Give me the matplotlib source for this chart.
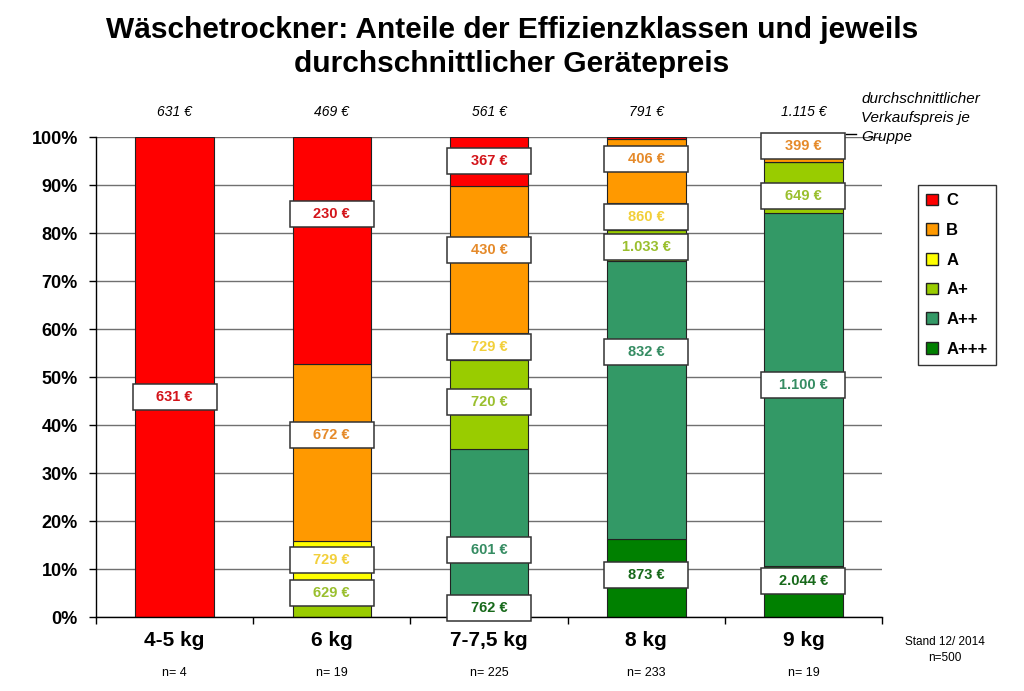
import matplotlib
matplotlib.use('Agg')
import matplotlib.pyplot as plt
from matplotlib.patches import Rectangle, Patch
import matplotlib.transforms as mtrans

plt.rcParams['font.family'] = ['Liberation Sans', 'DejaVu Sans']

categories = ['4-5 kg', '6 kg', '7-7,5 kg', '8 kg', '9 kg']
n_counts = ['n= 4', 'n= 19', 'n= 225', 'n= 233', 'n= 19']
avg_price = ['631 €', '469 €', '561 €', '791 €', '1.115 €']
classes = ['A+++', 'A++', 'A+', 'A', 'B', 'C']

# shares in percent per efficiency class (bottom to top)
share_appp = [0, 0, 4.4, 16.2, 10.53]
share_app = [0, 0, 30.6, 57.97, 73.68]
share_ap = [0, 5.26, 18.5, 6.5, 10.53]
share_a = [0, 10.53, 5.7, 5.6, 0]
share_b = [0, 36.84, 30.6, 13.3, 5.26]
share_c = [100, 47.37, 10.2, 0.43, 0]

# average price per class and group
price_appp = [None, None, '762 €', '873 €', '2.044 €']
price_app = [None, None, '601 €', '832 €', '1.100 €']
price_ap = [None, '629 €', '720 €', '1.033 €', '649 €']
price_a = [None, '729 €', '729 €', '860 €', None]
price_b = [None, '672 €', '430 €', '406 €', '399 €']
price_c = ['631 €', '230 €', '367 €', None, None]

# layout: vertical position of the price boxes (axis percent)
pos_appp = [None, None, 1.9, 8.75, 7.5]
pos_app = [None, None, 14.0, 55.2, 48.3]
pos_ap = [None, 5.0, 44.8, 77.1, 87.7]
pos_a = [None, 11.9, 56.3, 83.4, None]
pos_b = [None, 37.9, 76.5, 95.4, 98.1]
pos_c = [45.8, 84.0, 95.0, None, None]

shares = [share_appp, share_app, share_ap, share_a, share_b, share_c]
prices = [price_appp, price_app, price_ap, price_a, price_b, price_c]
positions = [pos_appp, pos_app, pos_ap, pos_a, pos_b, pos_c]
bar_colors = ['#008000', '#339966', '#99CC00', '#FFFF00', '#FF9900', '#FF0000']
text_colors = ['#17691A', '#358C62', '#9ABF2E', '#F2CF3A', '#E58A2A', '#D3141A']

fig = plt.figure(figsize=(10.24, 6.91), dpi=100)
ax = fig.add_axes([96/1024, 1-617/691, 786/1024, 480/691])

x = list(range(len(categories)))
bottom = [0]*len(categories)
handles = []
for s, col, lab in zip(shares, bar_colors, classes):
    ax.bar(x, s, bottom=bottom, width=0.5, color=col, edgecolor='#222222', linewidth=0.8, zorder=2)
    handles.append(Patch(facecolor=col, edgecolor='#222222', label=lab))
    bottom = [b+v for b, v in zip(bottom, s)]

bw, bh = 0.535, 5.4
for pr, ps, tc in zip(prices, positions, text_colors):
    for i, (p, y) in enumerate(zip(pr, ps)):
        if p is None: continue
        ax.add_patch(Rectangle((i-bw/2, y-bh/2), bw, bh, facecolor='white', edgecolor='#333333', linewidth=1.1, zorder=4, clip_on=False))
        ax.text(i, y, p, ha='center', va='center', color=tc, fontsize=10.5, fontweight='bold', zorder=5)

ax.set_xlim(-0.5, 4.5); ax.set_ylim(0, 100)
ax.set_yticks(range(0, 101, 10))
ax.set_yticklabels([f'{v}%' for v in range(0, 101, 10)], fontsize=13, fontweight='bold')
ax.set_xticks([i-0.5 for i in range(6)]); ax.set_xticklabels([])
ax.tick_params(axis='both', direction='out', length=5, width=1, color='black')
ax.tick_params(axis='y', pad=8)
ax.grid(axis='y', color='#707070', linewidth=1, zorder=0)
ax.set_axisbelow(True)
for sp in ['top', 'right']: ax.spines[sp].set_visible(False)
for sp in ['left', 'bottom']: ax.spines[sp].set_color('black'); ax.spines[sp].set_linewidth(1)

tr = mtrans.blended_transform_factory(ax.transData, ax.transAxes)
for i in x:
    ax.text(i, -0.048, categories[i], transform=tr, ha='center', va='center', fontsize=15, fontweight='bold')
    ax.text(i, -0.117, n_counts[i], transform=tr, ha='center', va='center', fontsize=9)
    ax.text(i, 1.052, avg_price[i], transform=tr, ha='center', va='center', fontsize=10, style='italic')

fig.text(0.5, 1-30/691, 'Wäschetrockner: Anteile der Effizienzklassen und jeweils', ha='center', va='center', fontsize=21.5, fontweight='bold')
fig.text(0.5, 1-64/691, 'durchschnittlicher Gerätepreis', ha='center', va='center', fontsize=21.5, fontweight='bold')
fig.text(861/1024, 1-92/691, 'durchschnittlicher\nVerkaufspreis je\nGruppe', ha='left', va='top', fontsize=11, style='italic', linespacing=1.45)
fig.add_artist(plt.Line2D([846/1024, 856/1024], [1-134/691, 1-134/691], color='black', linewidth=1))
fig.text(945/1024, 1-650/691, 'Stand 12/ 2014\nn=500', ha='center', va='center', fontsize=8.5, linespacing=1.4)

leg = fig.legend(handles=handles[::-1], loc='upper left', bbox_to_anchor=(918/1024, 1-185/691),
                 prop={'weight': 'bold', 'size': 12}, frameon=True, fancybox=False,
                 handlelength=0.7, handleheight=0.7, handletextpad=0.5, labelspacing=0.88,
                 borderpad=0.5, borderaxespad=0)
leg.get_frame().set_edgecolor('black'); leg.get_frame().set_linewidth(1)

fig.savefig('out.png', dpi=100)
